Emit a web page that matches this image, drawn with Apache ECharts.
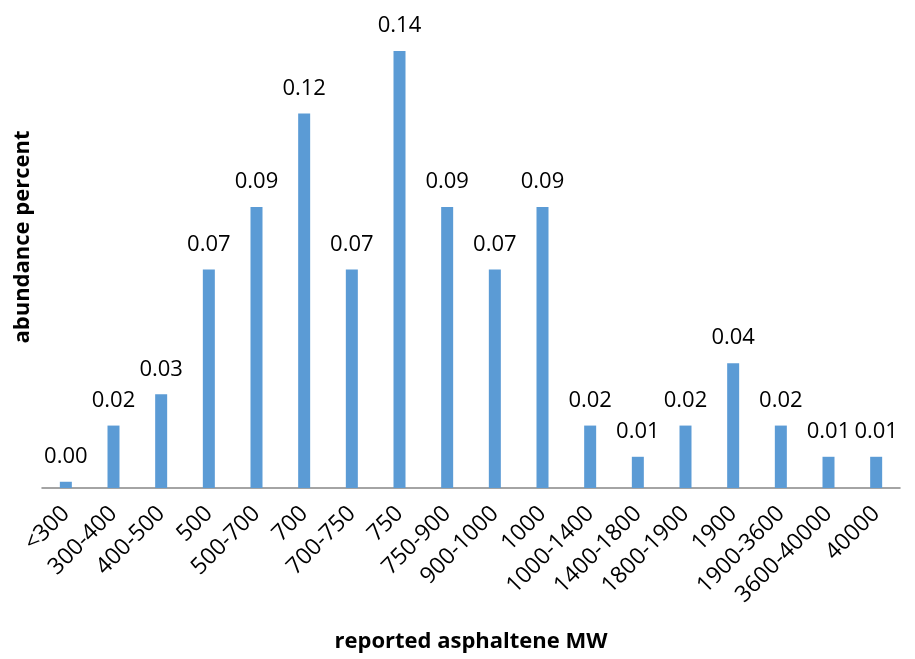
<!DOCTYPE html>
<html>
<head>
<meta charset="utf-8">
<script src="https://cdn.jsdelivr.net/npm/echarts@6/dist/echarts.min.js"></script>
<style>html,body{margin:0;padding:0;background:#fff}#c{width:915px;height:659px}</style>
</head>
<body>
<div id="c"></div>
<script>
const categories = ['<300','300-400','400-500','500','500-700','700','700-750','750','750-900','900-1000','1000','1000-1400','1400-1800','1800-1900','1900','1900-3600','3600-40000','40000'];
const abundance = [0.002,0.02,0.03,0.07,0.09,0.12,0.07,0.14,0.09,0.07,0.09,0.02,0.01,0.02,0.04,0.02,0.01,0.01];
const xTitle = 'reported asphaltene MW';
const yTitle = 'abundance percent';

const FONT = '"Open Sans", sans-serif';
const chart = echarts.init(document.getElementById('c'), null, {renderer:'canvas'});
chart.setOption({
  animation:false,
  grid:{left:42,right:15,top:51,bottom:171,containLabel:false},
  xAxis:{
    type:'category', data:categories,
    axisLine:{lineStyle:{color:'#868686',width:1.5}},
    axisTick:{show:false},
    axisLabel:{interval:0,rotate:45,margin:22,color:'#000',fontSize:23,fontFamily:FONT},
    name:xTitle, nameLocation:'middle', nameGap:143,
    nameTextStyle:{color:'#000',fontSize:22,fontWeight:'bold',fontFamily:FONT}
  },
  yAxis:{
    type:'value', min:0, max:0.14,
    axisLine:{show:false}, axisTick:{show:false}, axisLabel:{show:false}, splitLine:{show:false}
  },
  graphic:[{
    type:'text', x:23, y:237, rotation:Math.PI/2,
    style:{text:yTitle, fill:'#000', font:'bold 22px "Open Sans", sans-serif', textAlign:'center', textVerticalAlign:'middle'}
  }],
  series:[{
    type:'bar', data:abundance, barWidth:12,
    itemStyle:{color:'#5B9BD5'},
    label:{show:true,position:'top',distance:14,color:'#000',fontSize:22,fontFamily:FONT,
      formatter:p=>p.value.toFixed(2)}
  }]
});
</script>
</body>
</html>
